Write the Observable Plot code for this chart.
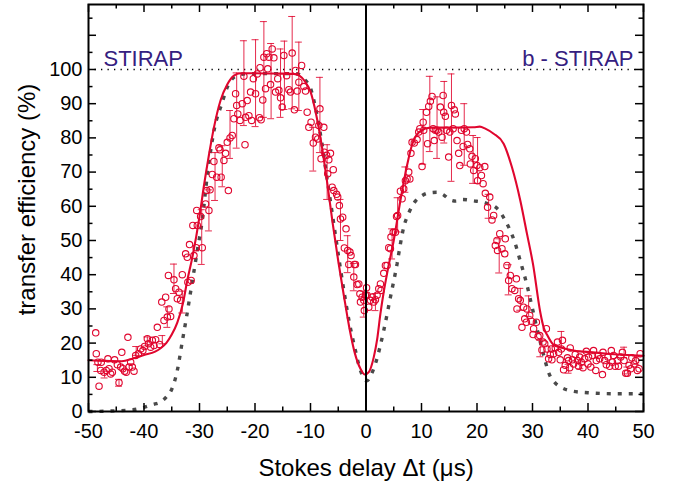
<!DOCTYPE html>
<html>
<head>
<meta charset="utf-8">
<script src="https://cdn.jsdelivr.net/npm/d3@7"></script>
<script src="https://cdn.jsdelivr.net/npm/@observablehq/plot@0.6"></script>
<style>
  html, body { margin: 0; padding: 0; background: #fff; }
  #chart { width: 676px; height: 483px; }
</style>
</head>
<body>
<div id="chart"></div>
<script>
// ---- measured data (delay in µs, efficiency in %) ----
const pointX = [
 -48.7,-48.6,-48.3,-48.1,-47.8,-47.7,-47.2,-46.8,-46.5,-46.3,-46.0,-45.7,-45.3,-44.8,-44.5,-44.2,-44.0,-43.8,-43.5,-43.2,
 -42.9,-42.7,-42.4,-42.1,-41.8,-41.5,-41.0,-40.6,-40.2,-39.9,-39.4,-39.2,-38.8,-38.5,-38.2,-37.9,-37.6,-37.2,-36.8,-36.4,
 -36.1,-35.8,-35.6,-35.5,-35.2,-34.6,-34.3,-34.0,-33.7,-33.4,-33.1,-32.5,-32.2,-32.1,-31.8,-31.5,-31.2,-31.0,-30.6,-30.4,
 -29.5,-30.5,-29.8,-28.9,-28.7,-28.3,-28.1,-27.7,-27.4,-26.9,-26.5,-26.3,-26.1,-25.6,-25.3,-25.0,-24.8,-24.5,-24.1,-23.8,
 -23.5,-23.3,-23.1,-22.7,-22.3,-22.0,-21.8,-21.7,-21.4,-21.1,-20.8,-20.6,-20.3,-19.9,-19.6,-19.2,-19.1,-18.9,-18.6,-18.4,
 -18.1,-17.9,-17.7,-17.5,-17.2,-16.9,-16.6,-16.3,-15.9,-15.7,-15.4,-15.1,-14.8,-14.3,-13.9,-13.6,-13.3,-12.9,-12.7,-12.4,
 -12.1,-11.6,-11.2,-10.9,-10.6,-10.3,-9.9,-9.5,-9.1,-8.7,-8.5,-8.3,-8.1,-7.6,-7.5,-7.1,-6.9,-6.7,-6.4,-6.1,
 -5.9,-5.8,-5.3,-5.1,-4.8,-4.6,-4.2,-3.9,-3.6,-3.3,-3.1,-2.9,-2.7,-2.2,-2.1,-1.9,-1.6,-1.3,-1.1,-1.0,
 -0.7,-0.4,-0.3,-0.1,0.1,0.2,0.5,0.8,1.1,1.4,1.7,2.0,2.3,2.6,2.7,3.2,3.5,3.8,4.1,4.4,
 4.5,4.9,5.3,5.5,5.7,6.2,6.5,6.8,7.1,7.4,7.7,7.9,8.1,8.3,8.7,9.2,9.5,9.7,10.1,10.3,
 10.4,10.9,11.1,11.3,11.6,11.9,12.1,12.3,12.5,12.8,13.1,13.4,13.7,13.9,14.0,14.3,14.5,14.9,15.1,15.4,
 15.7,15.9,16.1,16.4,16.7,16.9,17.2,17.5,17.7,18.1,18.3,18.7,18.8,19.1,19.4,19.7,20.0,20.1,20.5,20.8,
 21.1,21.4,21.5,21.9,22.3,22.7,23.0,23.3,23.6,23.7,24.1,24.5,25.0,25.1,25.4,25.7,26.0,26.3,26.8,27.1,
 27.5,27.8,27.2,28.4,29.0,28.1,28.6,28.9,29.5,29.8,30.1,30.2,30.7,31.0,31.3,31.7,31.9,32.2,32.5,32.6,
 32.9,33.2,33.4,33.5,33.8,34.1,34.5,34.7,35.0,35.2,35.4,35.6,35.9,36.3,36.5,36.7,36.8,37.2,37.4,37.7,
 38.1,38.3,38.5,38.8,39.1,39.4,39.7,40.0,40.1,40.5,40.8,41.0,41.4,41.5,41.8,42.1,42.6,42.7,43.0,43.3,
 43.6,43.9,44.2,44.4,44.6,44.9,45.3,45.5,45.9,46.2,46.5,46.8,47.1,47.4,47.7,47.9,48.3,48.6,48.9,49.2,
 49.4
];
const pointY = [
 23.0,16.9,14.4,7.4,12.0,14.4,11.5,12.0,15.4,12.5,11.0,11.5,15.1,13.7,8.4,13.0,17.3,12.5,11.8,11.5,
 21.7,13.0,14.4,13.0,11.8,16.4,16.9,18.3,17.8,19.0,21.3,19.8,18.8,20.8,19.3,21.0,24.6,19.6,32.0,26.6,
 33.4,27.6,39.8,30.0,27.8,38.5,35.9,33.0,34.9,32.5,40.0,46.1,45.1,37.8,48.8,38.3,54.4,45.6,47.9,54.4,
 47.9,58.8,57.0,60.7,64.6,58.8,64.8,69.3,73.1,68.5,77.1,76.5,68.5,73.4,75.5,78.7,64.6,80.0,80.7,85.6,
 92.9,89.5,87.0,85.1,90.0,98.0,78.0,86.0,90.9,86.5,93.4,85.1,97.3,92.9,98.7,85.9,100.5,85.3,91.1,103.6,
 94.4,104.6,100.2,103.6,95.6,106.0,103.4,93.4,97.3,93.9,91.7,89.0,104.1,98.2,94.1,93.4,104.8,88.2,99.7,93.7,
 96.3,101.2,95.0,93.7,87.5,83.1,84.6,78.5,80.2,79.7,83.6,88.5,73.9,83.1,75.8,74.9,69.5,73.6,75.5,65.6,
 70.7,64.6,63.5,62.7,60.2,56.3,56.8,47.8,53.4,47.1,43.0,46.6,45.6,39.3,43.0,43.0,37.1,37.3,34.4,32.0,
 33.4,32.5,29.5,34.0,36.2,34.0,30.5,32.5,33.4,32.0,32.7,34.0,35.9,37.3,35.4,40.4,42.7,42.7,47.9,47.6,
 51.0,52.4,52.4,57.0,57.3,64.4,62.2,65.1,67.5,68.0,70.0,68.0,75.5,78.7,78.5,79.5,81.7,82.7,71.6,84.6,
 82.2,87.5,78.3,89.2,90.7,92.1,82.7,79.2,82.2,82.2,81.7,89.0,80.2,92.4,87.5,86.3,82.2,74.4,81.7,89.5,
 82.7,88.2,87.0,79.2,75.5,71.9,82.2,77.5,82.7,81.7,78.1,76.8,72.4,74.6,70.5,73.9,71.9,67.5,71.3,69.0,
 66.6,71.6,63.8,59.7,62.7,56.0,57.3,48.5,50.0,47.1,52.0,47.6,46.1,50.5,42.7,38.3,39.8,35.9,35.4,38.8,
 33.0,32.5,30.0,30.5,30.0,24.6,27.1,26.1,28.1,26.4,22.5,24.2,26.1,21.9,22.2,18.0,20.3,19.8,24.2,18.3,
 15.4,16.7,18.3,15.1,16.9,18.6,20.3,17.3,15.1,18.3,20.8,12.2,13.5,15.7,14.9,12.8,18.6,15.1,13.9,16.7,
 14.9,13.2,15.9,14.4,12.8,15.4,17.6,13.9,15.9,13.0,16.4,17.8,12.0,14.9,16.4,15.4,10.8,17.3,14.9,13.7,
 15.9,13.2,17.8,14.4,16.4,13.2,14.9,13.2,15.9,17.3,14.9,11.2,11.2,13.5,12.5,15.7,13.9,14.9,12.0,12.5,
 16.9
];

// error bars: position, value, half-length
const errX = [-48.4,-47.1,-44.5,-41.4,-39.4,-36.7,-35.8,-34.6,-33.1,-29.6,-28.3,-27.2,-25.9,-24.5,-23.3,-22.0,-19.9,-18.4,-17.1,-15.4,
              -14.7,-13.3,-12.1,-9.5,-8.3,-7.0,-4.6,-3.3,-2.2,-0.4,1.7,4.7,5.7,7.1,10.3,11.5,12.8,14.1,15.4,17.7,
              19.3,20.1,22.1,24.0,25.7,27.8,29.3,31.4,35.2,36.5,38.6,46.5,47.1,48.7];
const errY = [12.7,10.8,8.4,17.7,20.5,21.0,27.6,38.8,32.0,51.0,58.8,68.7,71.7,81.0,88.0,96.0,96.0,100.0,96.6,96.0,
              98.3,102.0,98.0,76.7,86.7,70.0,56.0,46.0,39.3,31.4,32.0,49.0,57.5,67.8,80.3,87.0,83.0,87.5,83.0,81.0,
              73.7,73.4,60.0,45.5,38.5,32.8,30.8,18.4,21.0,12.5,13.5,17.3,12.0,15.0];
const errE = [1.0,1.0,1.0,1.3,1.3,1.2,3.0,4.3,3.2,8.0,6.0,7.0,6.0,7.0,11.0,12.4,12.7,14.0,11.0,10.0,
              10.0,13.5,10.0,6.4,11.0,8.0,6.0,5.4,4.0,3.8,2.5,4.4,5.0,3.7,8.0,11.0,9.0,9.0,15.7,9.0,
              7.0,6.7,3.5,5.0,4.4,3.2,3.0,2.4,2.4,1.3,1.0,1.5,1.0,1.2];

// theory curves
const fitRedX = [-50,-47,-44,-42,-40,-38,-37,-36,-35,-34,-33,-32.2,-31.3,-30,-29.2,-28.3,-27.4,-26.2,-25,-23.8,
                 -22.6,-20,-16,-13,-12,-11,-10,-9,-8,-7,-6,-5,-4,-3,-2,-1,-0.2,0.5,1.4,2,
                 2.6,3.2,3.9,5,6.2,7.4,8.3,9.8,11.6,15,19.4,20.5,21.5,23,24.8,26.3,27.8,29,30.1,31.4,
                 32,32.6,33.8,35,37.4,39.2,43.5,50];
const fitRedY = [15,14.8,14.7,15.5,16.5,17.5,18.5,20,22.5,26,31.5,38.3,45,57,66,75,83,91,95.6,98.2,
                 98.9,98.9,98.8,98.7,98.2,96.5,93.5,87,78,67,55,44,34,24.5,17,12.5,10.8,11.5,15.9,21,
                 28.6,35,41.2,50,61.7,72,78,82,83,83,83.1,83.3,82.7,81.2,78.3,71.4,61.7,52,43,29,
                 24.6,22.5,19.5,18.8,17.8,17.5,16.9,16.3];
const fitGrayX = [-50,-45,-42,-40,-38.5,-37,-36,-35,-34,-33.1,-32.3,-31.5,-30.4,-29.5,-28.6,-27.4,-25.9,-25,-23.8,-22,
                  -16,-13,-12,-11,-10,-9,-8,-7,-6,-5,-4,-3,-2,-1,0.2,1,1.7,3.2,4.4,5.6,
                  6.2,6.8,7.7,8.9,10,11,12.8,14,15.1,16.2,17.3,19.4,21.5,23.6,25.1,26.8,27.8,29,30,31,
                  32,33,34,35,37,40,45,50];
const fitGrayY = [0,0.2,0.5,1.2,2,2.8,4.2,6.5,12,20.5,28,36,47,56,69,82,90.4,94.8,97.7,98.7,
                  98.8,98.8,98.5,97,94.5,88,79,68,57,46,35.5,26,18.5,12,9,11,14,23.7,33.4,43.2,
                  49,53.9,58,61.5,63,63.8,64.1,63.3,61.9,61.5,62,61.6,61,59.4,55.8,49.5,44,37,30,23,
                  16.5,11,8.5,7.2,6,5.5,5.2,5.2];

// axis ticks and labels
const xTickLabels = [-50,-40,-30,-20,-10,0,10,20,30,40,50];
const xMinorTicks = [-45,-35,-25,-15,-5,5,15,25,35,45];
const yTickLabels = [0,10,20,30,40,50,60,70,80,90,100];
const yMajorTicks = [0,10,20,30,40,50,60,70,80,90,100,110];
const yMinorTicks = [5,15,25,35,45,55,65,75,85,95,105,115];

const RED = "#e0062e";
const GRAY = "#4a4a4a";
const PURPLE = "#35207f";

const W = 676, H = 483, ML = 88, MR = 33, MT = 4, MB = 72;
const PW = W - ML - MR, PH = H - MT - MB;

const pts = pointX.map((x, i) => ({x, y: pointY[i]}));
const errs = errX.map((x, i) => ({x, y: errY[i], e: errE[i]}));
const red = fitRedX.map((x, i) => ({x, y: fitRedY[i]}));
const gray = fitGrayX.map((x, i) => ({x, y: fitGrayY[i]}));

const chart = Plot.plot({
  width: W, height: H,
  marginLeft: ML, marginRight: MR, marginTop: MT, marginBottom: MB,
  x: {domain: [-50, 50]},
  y: {domain: [0, 119]},
  style: {fontFamily: "'Liberation Sans', Arial, sans-serif", background: "#fff", color: "#000", overflow: "visible"},
  marks: [
    Plot.ruleY([100], {stroke: "#000", strokeWidth: 1.3, strokeDasharray: "1.3,5.2"}),
    Plot.line(gray, {x: "x", y: "y", curve: "monotone-x", stroke: GRAY, strokeWidth: 3.4, strokeDasharray: "4,7", strokeLinecap: "butt", strokeLinejoin: "miter"}),
    Plot.line(red, {x: "x", y: "y", curve: "monotone-x", stroke: RED, strokeWidth: 2.1}),
    Plot.ruleX(errs, {x: "x", y1: d => d.y - d.e, y2: d => d.y + d.e, stroke: RED, strokeWidth: 1, strokeOpacity: 0.85}),
    Plot.ruleY(errs, {y: d => d.y + d.e, x1: "x", x2: "x", insetLeft: -3.5, insetRight: -3.5, stroke: RED, strokeWidth: 1, strokeOpacity: 0.85}),
    Plot.ruleY(errs, {y: d => d.y - d.e, x1: "x", x2: "x", insetLeft: -3.5, insetRight: -3.5, stroke: RED, strokeWidth: 1, strokeOpacity: 0.85}),
    Plot.dot(pts, {x: "x", y: "y", r: 3.2, stroke: RED, strokeWidth: 1.1, fill: "none"}),
    Plot.ruleX([0], {stroke: "#000", strokeWidth: 2}),
    // inward ticks on all four sides
    Plot.tickX(xTickLabels, {x: d => d, insetTop: PH - 8, stroke: "#000", strokeWidth: 1.5}),
    Plot.tickX(xTickLabels, {x: d => d, insetBottom: PH - 8, stroke: "#000", strokeWidth: 1.5}),
    Plot.tickX(xMinorTicks, {x: d => d, insetTop: PH - 4.5, stroke: "#000", strokeWidth: 1.5}),
    Plot.tickX(xMinorTicks, {x: d => d, insetBottom: PH - 4.5, stroke: "#000", strokeWidth: 1.5}),
    Plot.tickY(yMajorTicks, {y: d => d, insetRight: PW - 8, stroke: "#000", strokeWidth: 1.5}),
    Plot.tickY(yMajorTicks, {y: d => d, insetLeft: PW - 8, stroke: "#000", strokeWidth: 1.5}),
    Plot.tickY(yMinorTicks, {y: d => d, insetRight: PW - 4.5, stroke: "#000", strokeWidth: 1.5}),
    Plot.tickY(yMinorTicks, {y: d => d, insetLeft: PW - 4.5, stroke: "#000", strokeWidth: 1.5}),
    Plot.frame({stroke: "#000", strokeWidth: 2}),
    Plot.axisX(xTickLabels, {tickSize: 0, tickPadding: 12, fontSize: 20, label: null, tickFormat: d => String(d)}),
    Plot.axisY(yTickLabels, {tickSize: 0, tickPadding: 6, fontSize: 20, label: null, tickFormat: d => String(d)}),
    Plot.text(["Stokes delay Δt (μs)"], {frameAnchor: "bottom", dy: 64, lineAnchor: "bottom", fontSize: 24, fill: "#000"}),
    Plot.text(["transfer efficiency (%)"], {frameAnchor: "left", rotate: -90, textAnchor: "middle", dx: -61, dy: -8.5, fontSize: 24, fill: "#000"}),
    Plot.text(["STIRAP"], {frameAnchor: "top-left", dx: 15, dy: 61, lineAnchor: "bottom", textAnchor: "start", fontSize: 22, fill: PURPLE}),
    Plot.text(["b - STIRAP"], {frameAnchor: "top-right", dx: -10, dy: 61, lineAnchor: "bottom", textAnchor: "end", fontSize: 22, fill: PURPLE})
  ]
});
document.getElementById("chart").appendChild(chart);
</script>
</body>
</html>
